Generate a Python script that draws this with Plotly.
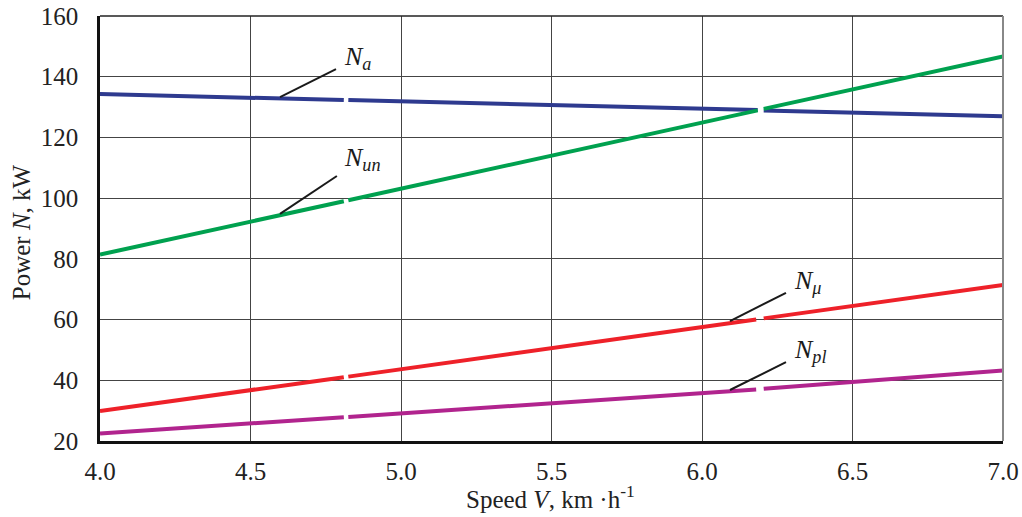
import plotly.graph_objects as go

# Segment endpoints (None = small break in the printed curve)
na_x = [4.0, 4.81, None, 4.825, 6.185, None, 6.205, 7.0]
na_y = [134.3, 132.3, None, 132.3, 129.0, None, 128.9, 127.0]
nun_x = [4.0, 4.81, None, 4.825, 6.185, None, 6.205, 7.0]
nun_y = [81.4, 99.0, None, 99.3, 128.9, None, 129.4, 146.7]
nmu_x = [4.0, 4.81, None, 4.825, 6.18, None, 6.205, 7.0]
nmu_y = [29.9, 41.0, None, 41.2, 60.0, None, 60.4, 71.4]
npl_x = [4.0, 4.81, None, 4.825, 6.18, None, 6.205, 7.0]
npl_y = [22.5, 27.8, None, 27.9, 37.0, None, 37.2, 43.2]

series = [
    ("N", "a", na_x, na_y, "#2E3A8F"),
    ("N", "un", nun_x, nun_y, "#00A14F"),
    ("N", "μ", nmu_x, nmu_y, "#EE2129"),
    ("N", "pl", npl_x, npl_y, "#B1248E"),
]

# label leader lines: (x0, y0, x1, y1), label position (x, y)
leaders = [
    (4.598, 133.3, 4.784, 142.5, 4.805, 146.3),
    (4.598, 94.8, 4.787, 107.3, 4.805, 113.0),
    (6.093, 59.5, 6.279, 68.8, 6.30, 72.3),
    (6.093, 36.8, 6.279, 46.0, 6.30, 49.8),
]

x_ticks = [4.0, 4.5, 5.0, 5.5, 6.0, 6.5, 7.0]
x_tick_text = ["4.0", "4.5", "5.0", "5.5", "6.0", "6.5", "7.0"]
y_ticks = [20, 40, 60, 80, 100, 120, 140, 160]

FONT = "Liberation Serif"

fig = go.Figure()
for main, sub, xs, ys, col in series:
    fig.add_trace(go.Scatter(x=xs, y=ys, mode="lines", name=main + sub,
                             line=dict(color=col, width=4), connectgaps=False,
                             showlegend=False, hoverinfo="skip"))

for (x0, y0, x1, y1, lx, ly), (main, sub, _, _, _) in zip(leaders, series):
    fig.add_shape(type="line", x0=x0, y0=y0, x1=x1, y1=y1,
                  line=dict(color="#1a1a1a", width=2), layer="above")
    fig.add_annotation(x=lx, y=ly, text=f"<i>{main}<sub>{sub}</sub></i>",
                       showarrow=False, xanchor="left", yanchor="middle",
                       font=dict(family=FONT, size=26, color="#1a1a1a"))

# axis titles
fig.add_annotation(xref="paper", yref="paper", x=0.499, y=-0.132,
                   text="Speed <i>V</i>, km ·h<sup>-1</sup>", showarrow=False,
                   xanchor="center", yanchor="middle",
                   font=dict(family=FONT, size=25, color="#222"))
fig.add_annotation(xref="paper", yref="paper", x=-0.086, y=0.492,
                   text="Power <i>N</i>, kW", showarrow=False, textangle=-90,
                   xanchor="center", yanchor="middle",
                   font=dict(family=FONT, size=25, color="#222"))

# frame: top black, right gray
fig.add_shape(type="line", xref="paper", yref="paper", x0=0, x1=1, y0=1, y1=1,
              line=dict(color="#222", width=1.5))
fig.add_shape(type="line", xref="paper", yref="paper", x0=1, x1=1, y0=0, y1=1,
              line=dict(color="#888", width=2))

fig.update_layout(
    width=1022, height=517,
    margin=dict(l=100, r=19, t=16, b=76),
    paper_bgcolor="white", plot_bgcolor="white",
    font=dict(family=FONT, size=25, color="#222"),
    xaxis=dict(range=[4.0, 7.0], tickvals=x_ticks, ticktext=x_tick_text,
               showgrid=True, gridcolor="#444", gridwidth=1,
               showline=True, linecolor="#111", linewidth=2.5,
               ticks="", ticklabelstandoff=6, zeroline=False, automargin=False,
               tickfont=dict(family=FONT, size=25)),
    yaxis=dict(range=[20, 160], tickvals=y_ticks,
               showgrid=True, gridcolor="#444", gridwidth=1,
               showline=True, linecolor="#111", linewidth=2.5,
               ticks="", ticklabelstandoff=14, zeroline=False, automargin=False,
               tickfont=dict(family=FONT, size=25)),
)

fig.write_html("out.html")
